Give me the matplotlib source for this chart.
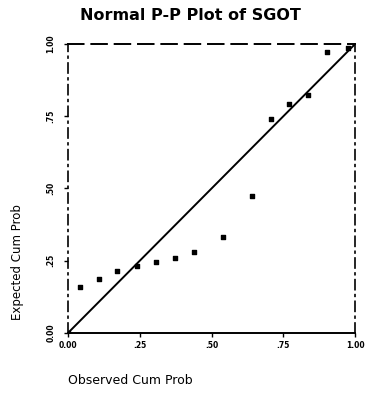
import matplotlib
matplotlib.use("Agg")
import matplotlib.pyplot as plt

observed = [0.0, 0.041, 0.108, 0.171, 0.241, 0.305, 0.372, 0.438, 0.541, 0.640, 0.706, 0.770, 0.837, 0.901, 0.975]
expected = [0.0, 0.159, 0.188, 0.215, 0.231, 0.244, 0.258, 0.279, 0.333, 0.473, 0.740, 0.794, 0.823, 0.973, 0.985]
ticks = [0.0, 0.25, 0.5, 0.75, 1.0]
tick_labels = ["0.00", ".25", ".50", ".75", "1.00"]

fig = plt.figure(figsize=(3.68, 3.93), dpi=100)
ax = fig.add_axes([0.185, 0.153, 0.78, 0.735])
ax.plot([0, 1], [0, 1], color="black", lw=1.4)
ax.scatter(observed, expected, marker="s", s=10, color="black", zorder=3)
ax.set_xlim(0, 1)
ax.set_ylim(0, 1)
ax.set_xticks(ticks)
ax.set_xticklabels(tick_labels, fontsize=5.5, fontweight="bold")
ax.set_yticks(ticks)
ax.set_yticklabels(tick_labels, fontsize=5.5, fontweight="bold", rotation=90, va="center")
ax.tick_params(axis="x", length=3, width=1, pad=3)
ax.tick_params(axis="y", length=3, width=1, pad=6)
ax.spines["bottom"].set_linewidth(1.4)
ax.spines["top"].set_linewidth(1.4)
ax.spines["top"].set_linestyle((0, (8, 4)))
ax.spines["left"].set_linewidth(1.2)
ax.spines["left"].set_linestyle((0, (6, 3, 1, 3)))
ax.spines["right"].set_linewidth(1.2)
ax.spines["right"].set_linestyle((0, (6, 3, 1, 3)))

fig.text(190/368, 1 - 16/393, "Normal P-P Plot of SGOT", ha="center", va="center",
         fontsize=11.5, fontweight="bold")
fig.text(68/368, 1 - 381/393, "Observed Cum Prob", ha="left", va="center", fontsize=9)
fig.text(18/368, 1 - 262/393, "Expected Cum Prob", ha="center", va="center", fontsize=8.5, rotation=90)

fig.savefig("out.png", dpi=100)
